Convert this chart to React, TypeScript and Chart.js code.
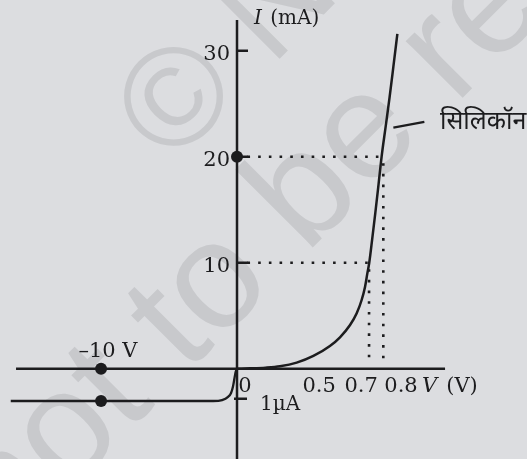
import React, { useEffect, useRef } from "react";
import { Chart, registerables } from "chart.js";

Chart.register(...registerables);

// ---------- data ----------
// Forward characteristic of the silicon diode: V (volt) vs I (mA)
const forwardVoltage = [0, 0.068, 0.15, 0.226, 0.314, 0.402, 0.489, 0.542, 0.595, 0.63, 0.656, 0.674, 0.686, 0.696, 0.712, 0.728, 0.745, 0.761, 0.782, 0.803, 0.823, 0.844];
const forwardCurrent = [0, 0.04, 0.11, 0.24, 0.58, 1.21, 2.15, 2.97, 4.13, 5.24, 6.49, 7.75, 9.0, 10.0, 12.3, 14.7, 17.4, 20.0, 22.8, 25.6, 28.5, 31.6];

// Reverse characteristic: V (volt, compressed reverse axis) vs I (µA)
const reverseVoltage = [-16.64, -10, -1.76, -1.1, -0.66, -0.44, -0.29, -0.18, -0.1, 0];
const reverseCurrent = [-1, -1, -1, -0.97, -0.87, -0.75, -0.53, -0.27, -0.09, 0];

// Marked points
const markedCurrent = [20]; // dot on the current axis (mA)
const reverseMarkVoltage = [-10, -10]; // V
const reverseMarkCurrent = [0, -1]; // µA

// Dotted guides: current level (mA) and the voltage where it meets the curve
const guideCurrent = [10, 20];
const guideVoltage = [0.695, 0.77];

// Tick labels
const currentTicks = [10, 20, 30];
const voltageTickLabels = ["0.5", "0.7", "0.8"];
const voltageTickAnchors = [0.432, 0.653, 0.863];
const reverseVoltageLabel = "–10 V";
const reverseCurrentLabel = "1µA";
const curveLabel = "सिलिकॉन";

// ---------- scales ----------
const X_MIN = -1.2474, X_MAX = 1.5263; // volt (forward)
const Y_MIN = -8.51, Y_MAX = 34.79; // mA
const XR_MIN = -17.43, XR_MAX = 21.32; // volt (reverse, compressed)
const YR_MIN = -2.8, YR_MAX = 11.45; // µA

const INK = "#1c1c1e";
const BG = "#dcdde0";
const WATER = "#c8c9cc";
const SERIF = '"DejaVu Serif", serif';

const pts = (xs: number[], ys: number[]) => xs.map((x, i) => ({ x, y: ys[i] }));

const decorPlugin = {
  id: "decor",
  beforeDraw(chart: any) {
    const { ctx, width, height } = chart;
    ctx.save();
    ctx.fillStyle = BG;
    ctx.fillRect(0, 0, width, height);
    // watermark
    ctx.fillStyle = WATER;
    ctx.textBaseline = "alphabetic";
    ctx.textAlign = "left";
    const drawLine = (text: string, before: string, ch: string, cx: number, cy: number, size: number) => {
      ctx.save();
      ctx.font = `${size}px "Liberation Sans", Arial, sans-serif`;
      ctx.translate(cx, cy);
      ctx.rotate(-Math.PI / 4);
      const off = ctx.measureText(before).width + ctx.measureText(ch).width / 2;
      ctx.fillText(text, -off, size * 0.36);
      ctx.restore();
    };
    drawLine("© NCERT", "", "©", 172, 95, 140);
    drawLine("not to be republished", "not to ", "b", 297, 186, 152);
    ctx.restore();
  },
  afterDatasetsDraw(chart: any) {
    const { ctx } = chart;
    const sx = chart.scales.x, sy = chart.scales.y, sxr = chart.scales.xr, syr = chart.scales.yr;
    const x0 = sx.getPixelForValue(0);
    const y0 = sy.getPixelForValue(0);
    ctx.save();
    ctx.strokeStyle = INK;
    ctx.fillStyle = INK;
    ctx.lineCap = "butt";
    // axes
    ctx.lineWidth = 2.5;
    ctx.beginPath();
    ctx.moveTo(sx.getPixelForValue(-1.163), y0);
    ctx.lineTo(sx.getPixelForValue(1.095), y0);
    ctx.moveTo(x0, sy.getPixelForValue(32.9));
    ctx.lineTo(x0, sy.getPixelForValue(Y_MIN));
    ctx.stroke();
    // ticks
    ctx.beginPath();
    currentTicks.forEach((t) => {
      const py = sy.getPixelForValue(t);
      ctx.moveTo(x0, py);
      ctx.lineTo(x0 + 11, py);
    });
    const pr = syr.getPixelForValue(-0.93);
    ctx.moveTo(x0 - 3, pr);
    ctx.lineTo(x0 + 10, pr);
    ctx.stroke();

    // texts
    ctx.textBaseline = "alphabetic";
    ctx.font = `21px ${SERIF}`;
    ctx.textAlign = "right";
    currentTicks.forEach((t) => {
      ctx.fillText(String(t), x0 - 7, sy.getPixelForValue(t) + 9.5);
    });
    // axis title I (mA)
    ctx.textAlign = "left";
    const tx = sx.getPixelForValue(0.089), ty = sy.getPixelForValue(32.55);
    ctx.font = `italic 20px ${SERIF}`;
    ctx.fillText("I", tx, ty);
    const wI = ctx.measureText("I ").width;
    ctx.font = `20px ${SERIF}`;
    ctx.fillText("(mA)", tx + wI + 2, ty);

    // voltage labels
    ctx.font = `21px ${SERIF}`;
    ctx.textAlign = "center";
    const vb = sy.getPixelForValue(-2.15);
    voltageTickLabels.forEach((l, i) => ctx.fillText(l, sx.getPixelForValue(voltageTickAnchors[i]), vb));
    ctx.textAlign = "left";
    const vx = sx.getPixelForValue(0.974);
    ctx.font = `italic 21px ${SERIF}`;
    ctx.fillText("V", vx, vb);
    const wV = ctx.measureText("V").width;
    ctx.font = `21px ${SERIF}`;
    ctx.fillText("(V)", vx + wV + 9, vb);

    // origin label
    ctx.textAlign = "center";
    ctx.fillText("0", sx.getPixelForValue(0.042), sy.getPixelForValue(-2.22));
    // reverse labels
    ctx.fillText(reverseVoltageLabel, sxr.getPixelForValue(-9.49), sy.getPixelForValue(1.15));
    ctx.textAlign = "left";
    ctx.font = `20px ${SERIF}`;
    ctx.fillText(reverseCurrentLabel, sx.getPixelForValue(0.121), sy.getPixelForValue(-3.88));

    // curve label
    ctx.font = '25px "Noto Sans Devanagari", "Noto Sans", "DejaVu Sans", sans-serif';
    ctx.fillText(curveLabel, sx.getPixelForValue(1.068), sy.getPixelForValue(22.6));
    ctx.restore();
  },
};

export default function App() {
  const ref = useRef<HTMLCanvasElement>(null);
  useEffect(() => {
    const canvas = ref.current!;
    const line = {
      showLine: true,
      pointRadius: 0,
      borderColor: INK,
      backgroundColor: INK,
      fill: false,
    };
    const dotted = {
      ...line,
      borderWidth: 2.6,
      borderDash: [2.6, 8.1],
      borderCapStyle: "butt" as const,
    };
    const chart = new Chart(canvas, {
      type: "scatter",
      data: {
        datasets: [
          // dotted guides
          ...guideCurrent.map((c, i) => ({
            ...dotted,
            data: [
              { x: 0.055, y: c },
              { x: guideVoltage[i] - 0.005, y: c },
            ],
            xAxisID: "x",
            yAxisID: "y",
          })),
          ...guideCurrent.map((c, i) => ({
            ...dotted,
            data: [
              { x: guideVoltage[i], y: c - 0.6 },
              { x: guideVoltage[i], y: 0.8 },
            ],
            xAxisID: "x",
            yAxisID: "y",
          })),
          {
            ...line,
            borderWidth: 2.5,
            cubicInterpolationMode: "monotone" as const,
            data: pts(forwardVoltage, forwardCurrent),
            xAxisID: "x",
            yAxisID: "y",
          },
          {
            ...line,
            borderWidth: 2.3,
            cubicInterpolationMode: "monotone" as const,
            data: pts(reverseVoltage, reverseCurrent),
            xAxisID: "xr",
            yAxisID: "yr",
          },
          // leader line to the curve label
          {
            ...line,
            borderWidth: 2.3,
            data: [
              { x: 0.823, y: 22.74 },
              { x: 0.986, y: 23.3 },
            ],
            xAxisID: "x",
            yAxisID: "y",
          },
          {
            showLine: false,
            pointRadius: 6,
            pointBackgroundColor: INK,
            pointBorderWidth: 0,
            data: markedCurrent.map((c) => ({ x: 0, y: c })),
            xAxisID: "x",
            yAxisID: "y",
          },
          {
            showLine: false,
            pointRadius: 6,
            pointBackgroundColor: INK,
            pointBorderWidth: 0,
            data: pts(reverseMarkVoltage, reverseMarkCurrent),
            xAxisID: "xr",
            yAxisID: "yr",
          },
        ],
      },
      options: {
        animation: false,
        responsive: false,
        devicePixelRatio: 1,
        events: [],
        layout: { padding: 0, autoPadding: false },
        plugins: { legend: { display: false }, tooltip: { enabled: false } },
        scales: {
          x: { type: "linear", display: false, min: X_MIN, max: X_MAX },
          y: { type: "linear", display: false, min: Y_MIN, max: Y_MAX },
          xr: { type: "linear", axis: "x", display: false, min: XR_MIN, max: XR_MAX },
          yr: { type: "linear", axis: "y", display: false, min: YR_MIN, max: YR_MAX },
        },
      } as any,
      plugins: [decorPlugin],
    });
    return () => chart.destroy();
  }, []);
  return (
    <div style={{ position: "fixed", left: 0, top: 0, width: 527, height: 459, background: BG }}>
      <canvas ref={ref} width={527} height={459} style={{ display: "block" }} />
    </div>
  );
}
